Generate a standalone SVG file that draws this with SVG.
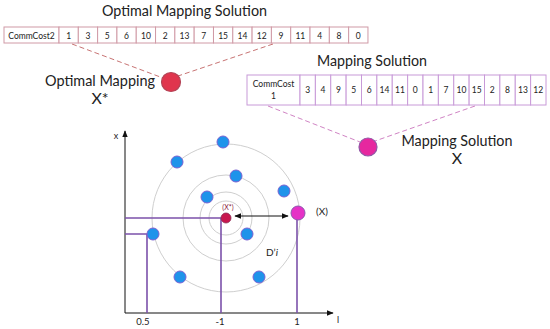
<svg xmlns="http://www.w3.org/2000/svg" width="550" height="329" viewBox="0 0 550 329">
<style>
text{font-family:Lato,"Liberation Sans",sans-serif;fill:#222}
.big{font-size:16px}
.cell1{fill:#fff;stroke:#d09aa6;stroke-width:1}
.cell2{fill:#fff;stroke:#c89ad8;stroke-width:1}
.num{font-size:8.5px;text-anchor:middle}
.ax{stroke:#111;stroke-width:1;fill:none}
.pl{stroke:#7c52aa;stroke-width:1.6;fill:none}
.ring{stroke:#c8c8c8;stroke-width:0.9;fill:none}
.dot{fill:#1f93ea;stroke:#7a62d2;stroke-width:1}
.tick{font-size:9.5px;text-anchor:middle}
</style>
<defs>
<marker id="ah" viewBox="0 0 10 10" refX="9" refY="5" markerWidth="7" markerHeight="7" orient="auto-start-reverse" markerUnits="userSpaceOnUse"><path d="M0,1 L10,5 L0,9 z" fill="#111"/></marker>
</defs>
<rect width="550" height="329" fill="#fff"/>

<g id="connectors">
<line x1="72" y1="44" x2="163" y2="78" stroke="#c87474" stroke-width="1" stroke-dasharray="5,3"/>
<line x1="273" y1="44" x2="178" y2="76" stroke="#c87474" stroke-width="1" stroke-dasharray="5,3"/>
<line x1="268" y1="106" x2="360" y2="142" stroke="#d084c4" stroke-width="1" stroke-dasharray="5,3"/>
<line x1="475" y1="106" x2="375" y2="141" stroke="#d084c4" stroke-width="1" stroke-dasharray="5,3"/>
</g>

<g id="optimal-array">
<text class="big" x="184.5" y="16" text-anchor="middle" textLength="165" lengthAdjust="spacingAndGlyphs">Optimal Mapping Solution</text>
<rect class="cell1" x="4" y="27" width="55" height="16"/>
<text class="num" x="31.5" y="38.5">CommCost2</text>
<g id="opt-cells">
<rect class="cell1" x="59" y="27" width="19.31" height="16"/><text class="num" x="68.66" y="38.5">1</text>
<rect class="cell1" x="78.31" y="27" width="19.31" height="16"/><text class="num" x="87.97" y="38.5">3</text>
<rect class="cell1" x="97.62" y="27" width="19.31" height="16"/><text class="num" x="107.28" y="38.5">5</text>
<rect class="cell1" x="116.93" y="27" width="19.31" height="16"/><text class="num" x="126.59" y="38.5">6</text>
<rect class="cell1" x="136.24" y="27" width="19.31" height="16"/><text class="num" x="145.9" y="38.5">10</text>
<rect class="cell1" x="155.55" y="27" width="19.31" height="16"/><text class="num" x="165.21" y="38.5">2</text>
<rect class="cell1" x="174.86" y="27" width="19.31" height="16"/><text class="num" x="184.52" y="38.5">13</text>
<rect class="cell1" x="194.17" y="27" width="19.31" height="16"/><text class="num" x="203.83" y="38.5">7</text>
<rect class="cell1" x="213.48" y="27" width="19.31" height="16"/><text class="num" x="223.14" y="38.5">15</text>
<rect class="cell1" x="232.79" y="27" width="19.31" height="16"/><text class="num" x="242.45" y="38.5">14</text>
<rect class="cell1" x="252.1" y="27" width="19.31" height="16"/><text class="num" x="261.76" y="38.5">12</text>
<rect class="cell1" x="271.41" y="27" width="19.31" height="16"/><text class="num" x="281.07" y="38.5">9</text>
<rect class="cell1" x="290.72" y="27" width="19.31" height="16"/><text class="num" x="300.38" y="38.5">11</text>
<rect class="cell1" x="310.03" y="27" width="19.31" height="16"/><text class="num" x="319.69" y="38.5">4</text>
<rect class="cell1" x="329.34" y="27" width="19.31" height="16"/><text class="num" x="339" y="38.5">8</text>
<rect class="cell1" x="348.65" y="27" width="19.31" height="16"/><text class="num" x="358.31" y="38.5">0</text>
</g>
</g>

<g id="optimal-node">
<circle cx="171" cy="82" r="9.5" fill="#e0354d" stroke="#b34456" stroke-width="1.2"/>
<text class="big" x="100" y="86" text-anchor="middle" textLength="110" lengthAdjust="spacingAndGlyphs">Optimal Mapping</text>
<text class="big" x="100" y="104" text-anchor="middle">X*</text>
</g>

<g id="mapping-array">
<text class="big" x="372" y="66" text-anchor="middle" textLength="110" lengthAdjust="spacingAndGlyphs">Mapping Solution</text>
<rect class="cell2" x="247" y="75" width="53" height="30"/>
<text class="num" x="273.5" y="87">CommCost</text>
<text class="num" x="273.5" y="99">1</text>
<g id="map-cells">
<rect class="cell2" x="300" y="75" width="15.375" height="30"/><text class="num" x="307.69" y="93">3</text>
<rect class="cell2" x="315.375" y="75" width="15.375" height="30"/><text class="num" x="323.06" y="93">4</text>
<rect class="cell2" x="330.75" y="75" width="15.375" height="30"/><text class="num" x="338.44" y="93">9</text>
<rect class="cell2" x="346.125" y="75" width="15.375" height="30"/><text class="num" x="353.81" y="93">5</text>
<rect class="cell2" x="361.5" y="75" width="15.375" height="30"/><text class="num" x="369.19" y="93">6</text>
<rect class="cell2" x="376.875" y="75" width="15.375" height="30"/><text class="num" x="384.56" y="93">14</text>
<rect class="cell2" x="392.25" y="75" width="15.375" height="30"/><text class="num" x="399.94" y="93">11</text>
<rect class="cell2" x="407.625" y="75" width="15.375" height="30"/><text class="num" x="415.31" y="93">0</text>
<rect class="cell2" x="423" y="75" width="15.375" height="30"/><text class="num" x="430.69" y="93">1</text>
<rect class="cell2" x="438.375" y="75" width="15.375" height="30"/><text class="num" x="446.06" y="93">7</text>
<rect class="cell2" x="453.75" y="75" width="15.375" height="30"/><text class="num" x="461.44" y="93">10</text>
<rect class="cell2" x="469.125" y="75" width="15.375" height="30"/><text class="num" x="476.81" y="93">15</text>
<rect class="cell2" x="484.5" y="75" width="15.375" height="30"/><text class="num" x="492.19" y="93">2</text>
<rect class="cell2" x="499.875" y="75" width="15.375" height="30"/><text class="num" x="507.56" y="93">8</text>
<rect class="cell2" x="515.25" y="75" width="15.375" height="30"/><text class="num" x="522.94" y="93">13</text>
<rect class="cell2" x="530.625" y="75" width="15.375" height="30"/><text class="num" x="538.31" y="93">12</text>
</g>
</g>

<g id="mapping-node">
<circle cx="368" cy="147" r="9" fill="#e6289f" stroke="#9156a6" stroke-width="1.2"/>
<text class="big" x="457" y="146" text-anchor="middle" textLength="111" lengthAdjust="spacingAndGlyphs">Mapping Solution</text>
<text class="big" x="457" y="164" text-anchor="middle">X</text>
</g>

<g id="plot">
<circle class="ring" cx="226" cy="218" r="17"/>
<circle class="ring" cx="226" cy="218" r="26"/>
<circle class="ring" cx="226" cy="218" r="43"/>
<circle class="ring" cx="226" cy="218" r="74"/>
<line class="ax" x1="125" y1="313" x2="125" y2="131" marker-end="url(#ah)"/>
<line class="ax" x1="125" y1="313" x2="333" y2="313" marker-end="url(#ah)"/>
<text x="116" y="139" style="font-size:9px" text-anchor="middle">x</text>
<text x="338" y="323" style="font-size:9px" text-anchor="middle">l</text>
<path class="pl" d="M125,218 H221 V313"/>
<path class="pl" d="M125,234 H147 V313"/>
<path class="pl" d="M297,214 V313"/>
<text class="tick" x="143" y="325">0.5</text>
<text class="tick" x="220" y="325">-1</text>
<text class="tick" x="297" y="325">1</text>
<line x1="235" y1="216" x2="288" y2="216" stroke="#111" stroke-width="1" marker-start="url(#ah)" marker-end="url(#ah)"/>
<circle class="dot" cx="223" cy="142" r="6"/>
<circle class="dot" cx="177" cy="162" r="6"/>
<circle class="dot" cx="236" cy="176" r="6"/>
<circle class="dot" cx="284" cy="191" r="6"/>
<circle class="dot" cx="207" cy="197" r="6"/>
<circle class="dot" cx="247" cy="234" r="6"/>
<circle class="dot" cx="153" cy="234" r="6"/>
<circle class="dot" cx="180" cy="277" r="6"/>
<circle class="dot" cx="259" cy="277" r="6"/>
<circle cx="226" cy="218" r="5" fill="#c8164e" stroke="#8a2a50" stroke-width="0.8"/>
<circle cx="298" cy="213" r="7" fill="#e532c6" stroke="#8e56b0" stroke-width="1"/>
<text x="228" y="210" style="font-size:7px;fill:#8b1a3a" text-anchor="middle">(X*)</text>
<text x="322" y="215" style="font-size:10px" text-anchor="middle">(X)</text>
<text x="272" y="256" style="font-size:10px" text-anchor="middle">D’<tspan font-style="italic">i</tspan></text>
</g>
</svg>
